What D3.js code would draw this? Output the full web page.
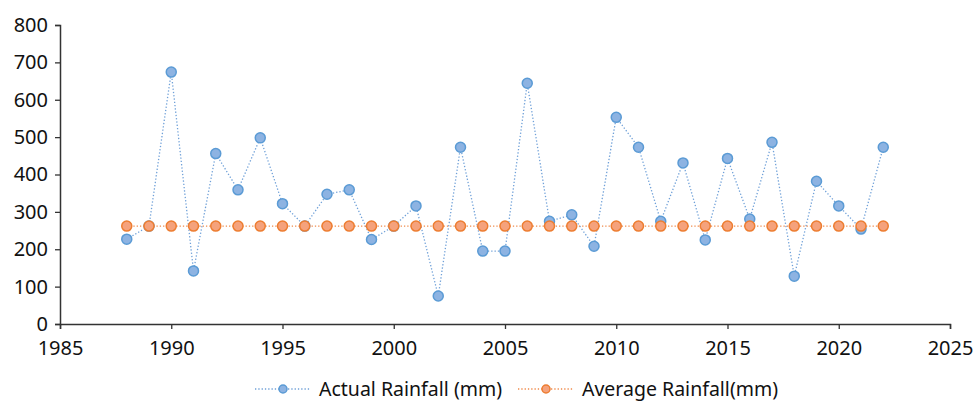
<!DOCTYPE html>
<html lang="en">
<head>
<meta charset="UTF-8">
<script src="https://cdn.jsdelivr.net/npm/d3@7/dist/d3.min.js"></script>
<style>
  html, body { margin: 0; background: #fff; }
  text { font-family: "Noto Sans", "DejaVu Sans", sans-serif; fill: #111; }
</style>
</head>
<body>
<svg id="chart" width="979" height="403"></svg>
<script>
// rainfall by year
var years = d3.range(1988, 2023);
var actual = [227, 262, 674, 142, 456, 359, 498, 322, 262, 347, 359, 226, 262, 316, 75, 473, 195, 195, 644,
              275, 292, 208, 553, 473, 275, 431, 225, 443, 281, 486, 128, 382, 316, 254, 473];
var average = years.map(function() { return 262; });
var xTicks = [1985, 1990, 1995, 2000, 2005, 2010, 2015, 2020, 2025];
var yTicks = [0, 100, 200, 300, 400, 500, 600, 700, 800];
var seriesNames = ["Actual Rainfall (mm)", "Average Rainfall(mm)"];

var svg = d3.select("#chart");
var x = d3.scaleLinear().domain([1985, 2025]).range([60, 950]);
var y = d3.scaleLinear().domain([0, 800]).range([324, 25]);

var styles = [
  { line: "#6fa0d8", fill: "#8db3e2", stroke: "#5b9bd5" },
  { line: "#f08a4b", fill: "#f5a27c", stroke: "#ed7d31" }
];

// axes
var xAxis = svg.append("g").attr("transform", "translate(0," + y(0) + ")")
  .call(d3.axisBottom(x).tickValues(xTicks).tickFormat(d3.format("d")).tickSize(5).tickPadding(12));
var yAxis = svg.append("g").attr("transform", "translate(" + x(1985) + ",0)")
  .call(d3.axisLeft(y).tickValues(yTicks).tickSize(5).tickPadding(7));
[xAxis, yAxis].forEach(function(g) {
  g.select(".domain").attr("stroke", "#333").attr("stroke-width", 1.5);
  g.selectAll(".tick line").attr("stroke", "#333").attr("stroke-width", 1.3);
  g.selectAll(".tick text").style("font-size", "20px").attr("fill", "#111");
});

var line = d3.line().x(function(d) { return x(d[0]); }).y(function(d) { return y(d[1]); });

function drawSeries(vals, st) {
  var pts = years.map(function(yr, i) { return [yr, vals[i]]; });
  svg.append("path").datum(pts).attr("d", line)
    .attr("fill", "none").attr("stroke", st.line).attr("stroke-width", 1.3)
    .attr("stroke-dasharray", "1.3,2");
  svg.append("g").selectAll("circle").data(pts).join("circle")
    .attr("cx", function(d) { return x(d[0]); })
    .attr("cy", function(d) { return y(d[1]); })
    .attr("r", 5)
    .attr("fill", st.fill).attr("stroke", st.stroke).attr("stroke-width", 1.5);
}
drawSeries(actual, styles[0]);
drawSeries(average, styles[1]);

// legend
var legendX = [255, 518];
seriesNames.forEach(function(name, i) {
  var g = svg.append("g").attr("transform", "translate(" + legendX[i] + ",389)");
  g.append("line").attr("x1", 0).attr("x2", 56).attr("y1", 0).attr("y2", 0)
    .attr("stroke", styles[i].line).attr("stroke-width", 1.3).attr("stroke-dasharray", "1.3,2");
  g.append("circle").attr("cx", 28).attr("cy", 0).attr("r", 4)
    .attr("fill", styles[i].fill).attr("stroke", styles[i].stroke).attr("stroke-width", 1.5);
  g.append("text").attr("x", 64).attr("y", 0).attr("dy", "0.35em")
    .style("font-size", "19.5px").text(name);
});
</script>
</body>
</html>
